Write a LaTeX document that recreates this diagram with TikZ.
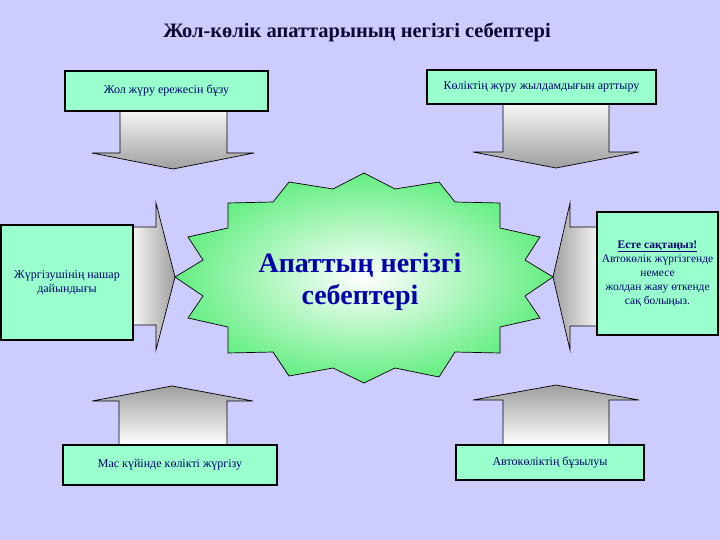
\documentclass[tikz,border=0pt]{standalone}
\usepackage{fontspec}
\setmainfont{Liberation Serif}
\usepackage{tikz}
\usetikzlibrary{shapes,positioning}

\definecolor{bgblue}{RGB}{204,204,255}
\definecolor{mint}{RGB}{153,255,204}
\definecolor{burst}{RGB}{100,238,130}
\definecolor{navy}{RGB}{0,0,110}
\definecolor{deepblue}{RGB}{0,0,170}
\definecolor{titleink}{RGB}{10,10,50}

\tikzset{
  causebox/.style={draw=black, line width=2.2pt, fill=mint, text=navy, align=center,
    font=\fontsize{12}{14}\selectfont, inner sep=2pt},
  blockarrow/.style={draw=black, line width=0.7pt},
}

\begin{document}
\begin{tikzpicture}[x=1pt, y=-1pt]
    % Background
    \fill[bgblue] (0,0) rectangle (720,540);
    \useasboundingbox (0,0) rectangle (720,540);

    % Title
    \node[font=\bfseries\fontsize{20.5}{24}\selectfont, text=titleink] (title) at (357,32) {Жол-көлік апаттарының негізгі себептері};

    % Block arrows pointing to the centre
    \draw[blockarrow, top color=white!92!gray, bottom color=gray!75] (120,111) -- (120,153) -- (92,153) -- (173,169) -- (254,153) -- (227,153) -- (227,111); % from top left
    \draw[blockarrow, top color=white!92!gray, bottom color=gray!75] (503,105) -- (503,152) -- (473,152) -- (556,168) -- (639,152) -- (609,152) -- (609,105); % from top right
    \draw[blockarrow, left color=white!92!gray, right color=gray!75] (133,227) -- (156,227) -- (156,203) -- (175,277) -- (156,350) -- (156,325) -- (133,325); % from left
    \draw[blockarrow, left color=gray!75, right color=white!92!gray] (598,227) -- (570,227) -- (570,203) -- (553,277) -- (570,350) -- (570,326) -- (598,326); % from right
    \draw[blockarrow, top color=gray!75, bottom color=white] (119,445) -- (119,401) -- (92,401) -- (172,386) -- (253,401) -- (227,401) -- (227,445); % from bottom left
    \draw[blockarrow, top color=gray!75, bottom color=white] (503,445) -- (503,400) -- (473,400) -- (556,385) -- (639,400) -- (609,400) -- (609,445); % from bottom right

    % Central burst
    \draw[line width=0.7pt, inner color=white, outer color=burst]
      (228,203) -- (273,202) -- (289,182) -- (333,189) -- (364,173) -- (395,189) -- (439,182) -- (455,202)
      -- (500,203) -- (500,228) -- (540,237) -- (525,260) -- (553,277) -- (525,296) -- (540,318) -- (500,327)
      -- (500,353) -- (455,352) -- (439,377) -- (395,368) -- (364,383) -- (333,368) -- (289,376) -- (273,352)
      -- (228,353) -- (228,327) -- (188,318) -- (203,296) -- (175,277) -- (203,260) -- (188,237) -- (228,228) -- cycle;
    \node[font=\bfseries\fontsize{28}{32}\selectfont, text=deepblue, align=center] (core) at (360,282) {Апаттың негізгі\\себептері};

    % Causes
    \node[causebox, minimum width=203pt, minimum height=40pt] (rules) at (166.5,91) {Жол жүру ережесін бұзу};
    \node[causebox, minimum width=229pt, minimum height=34pt] (speed) at (541.5,87) {Көліктің жүру жылдамдығын арттыру};
    \node[causebox, minimum width=132pt, minimum height=115pt] (driver) at (67,282.5) {Жүргізушінің нашар\\дайындығы};
    \node[causebox, minimum width=121pt, minimum height=123pt, font=\fontsize{11.5}{14}\selectfont] (remember) at (657.5,273.5)
      {\underline{\textbf{Есте сақтаңыз!}}\\Автокөлік жүргізгенде\\немесе\\жолдан жаяу өткенде\\сақ болыңыз.};
    \node[causebox, minimum width=214pt, minimum height=40pt] (drunk) at (170,465) {Мас күйінде көлікті жүргізу};
    \node[causebox, minimum width=188pt, minimum height=35pt] (fault) at (550,462.5) {Автокөліктің бұзылуы};
\end{tikzpicture}
\end{document}
